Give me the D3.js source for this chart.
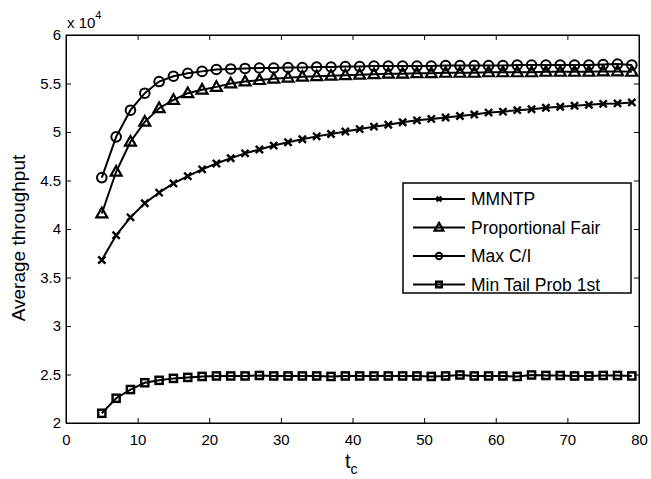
<!DOCTYPE html>
<html>
<head>
<meta charset="utf-8">
<script src="https://cdn.jsdelivr.net/npm/d3@7"></script>
<style>
  body { margin: 0; background: #fff; }
  svg { display: block; font-family: "Liberation Sans", Arial, Helvetica, sans-serif; }
  .axis path, .axis line { stroke: #000; }
  .axis text { font-size: 15px; fill: #000; }
</style>
</head>
<body>
<svg id="chart" width="651" height="479"></svg>
<script>
// t_c values (x axis)
var tc = [5, 7, 9, 11, 13, 15, 17, 19, 21, 23,
          25, 27, 29, 31, 33, 35, 37, 39, 41, 43,
          45, 47, 49, 51, 53, 55, 57, 59, 61, 63,
          65, 67, 69, 71, 73, 75, 77, 79];

// average throughput, in units of 1e4
var mmntp = [3.68, 3.935, 4.12, 4.265, 4.375, 4.47, 4.545, 4.615, 4.675, 4.73,
             4.78, 4.82, 4.86, 4.895, 4.925, 4.955, 4.98, 5.005, 5.03, 5.055,
             5.075, 5.10, 5.12, 5.135, 5.15, 5.165, 5.18, 5.20, 5.21, 5.225,
             5.235, 5.25, 5.26, 5.27, 5.28, 5.29, 5.295, 5.305];
var propFair = [4.16, 4.59, 4.90, 5.105, 5.245, 5.33, 5.40, 5.435, 5.465, 5.50,
                5.52, 5.535, 5.55, 5.56, 5.57, 5.575, 5.58, 5.585, 5.59, 5.595,
                5.60, 5.60, 5.605, 5.605, 5.61, 5.61, 5.61, 5.615, 5.615, 5.615,
                5.615, 5.62, 5.62, 5.62, 5.62, 5.625, 5.625, 5.62];
var maxCI = [4.53, 4.95, 5.225, 5.40, 5.52, 5.575, 5.605, 5.625, 5.645, 5.65,
             5.655, 5.66, 5.66, 5.665, 5.665, 5.67, 5.67, 5.675, 5.675, 5.68,
             5.68, 5.68, 5.68, 5.68, 5.685, 5.685, 5.685, 5.685, 5.685, 5.69,
             5.69, 5.69, 5.69, 5.69, 5.69, 5.695, 5.70, 5.69];
var minTail = [2.10, 2.255, 2.345, 2.415, 2.44, 2.46, 2.47, 2.48, 2.485, 2.485,
               2.485, 2.49, 2.485, 2.485, 2.485, 2.485, 2.48, 2.485, 2.485, 2.485,
               2.485, 2.485, 2.485, 2.48, 2.485, 2.495, 2.485, 2.485, 2.485, 2.48,
               2.495, 2.49, 2.49, 2.485, 2.485, 2.49, 2.49, 2.485];

var seriesNames = ['MMNTP', 'Proportional Fair', 'Max C/I', 'Min Tail Prob 1st'];
var seriesMarkers = ['x', 'triangle', 'circle', 'square'];
var seriesValues = [mmntp, propFair, maxCI, minTail];

var xTicks = [0, 10, 20, 30, 40, 50, 60, 70, 80];
var yTicks = [2, 2.5, 3, 3.5, 4, 4.5, 5, 5.5, 6];

var margin = { top: 35, right: 12, bottom: 56, left: 66 };
var width = 651 - margin.left - margin.right;
var height = 479 - margin.top - margin.bottom;

var svg = d3.select('#chart');
var g = svg.append('g').attr('transform', 'translate(' + margin.left + ',' + margin.top + ')');

var x = d3.scaleLinear().domain([0, 80]).range([0, width]);
var y = d3.scaleLinear().domain([2, 6]).range([height, 0]);

function fmt(d) { return String(d); }

// axes, ticks pointing inward on all four sides
g.append('g').attr('class', 'axis')
    .attr('transform', 'translate(0,' + height + ')')
    .call(d3.axisBottom(x).tickValues(xTicks).tickFormat(fmt).tickSizeInner(-5).tickSizeOuter(0).tickPadding(11));
g.append('g').attr('class', 'axis')
    .call(d3.axisTop(x).tickValues(xTicks).tickFormat('').tickSizeInner(-5).tickSizeOuter(0));
g.append('g').attr('class', 'axis')
    .call(d3.axisLeft(y).tickValues(yTicks).tickFormat(fmt).tickSizeInner(-5).tickSizeOuter(0).tickPadding(5));
g.append('g').attr('class', 'axis')
    .attr('transform', 'translate(' + width + ',0)')
    .call(d3.axisRight(y).tickValues(yTicks).tickFormat('').tickSizeInner(-5).tickSizeOuter(0));

g.append('rect')
    .attr('width', width).attr('height', height)
    .attr('fill', 'none').attr('stroke', '#000').attr('stroke-width', 1);

function drawMarker(sel, type, s) {
    if (type === 'x') {
        sel.append('path')
            .attr('d', 'M' + (-s) + ',' + (-s) + 'L' + s + ',' + s + 'M' + (-s) + ',' + s + 'L' + s + ',' + (-s))
            .attr('stroke', '#000').attr('stroke-width', 2.4).attr('fill', 'none');
    } else if (type === 'triangle') {
        sel.append('path')
            .attr('d', 'M0,' + (-s * 1.1) + 'L' + (s * 1.05) + ',' + (s * 0.75) + 'L' + (-s * 1.05) + ',' + (s * 0.75) + 'Z')
            .attr('stroke', '#000').attr('stroke-width', 2.2).attr('fill', 'none').attr('stroke-linejoin', 'miter');
    } else if (type === 'circle') {
        sel.append('circle').attr('r', s)
            .attr('stroke', '#000').attr('stroke-width', 2).attr('fill', 'none');
    } else {
        sel.append('rect')
            .attr('x', -s).attr('y', -s).attr('width', 2 * s).attr('height', 2 * s)
            .attr('stroke', '#000').attr('stroke-width', 2.4).attr('fill', 'none');
    }
}

var markerSize = { x: 3.6, triangle: 5.2, circle: 4.8, square: 3.6 };
var line = d3.line().x(function(d) { return x(d[0]); }).y(function(d) { return y(d[1]); });

seriesValues.forEach(function(vals, i) {
    var pts = tc.map(function(t, j) { return [t, vals[j]]; });
    g.append('path')
        .datum(pts)
        .attr('d', line)
        .attr('fill', 'none')
        .attr('stroke', '#000')
        .attr('stroke-width', 2);

    g.append('g').selectAll('g')
        .data(pts)
        .join('g')
        .attr('transform', function(d) { return 'translate(' + x(d[0]) + ',' + y(d[1]) + ')'; })
        .each(function() { drawMarker(d3.select(this), seriesMarkers[i], markerSize[seriesMarkers[i]]); });
});

// legend
var legend = svg.append('g').attr('transform', 'translate(403,183)');
legend.append('rect')
    .attr('width', 228).attr('height', 110)
    .attr('fill', '#fff').attr('stroke', '#000').attr('stroke-width', 1.5);

seriesNames.forEach(function(name, i) {
    var row = legend.append('g').attr('transform', 'translate(0,' + (16 + i * 28.5) + ')');
    row.append('line')
        .attr('x1', 10).attr('x2', 62)
        .attr('stroke', '#000').attr('stroke-width', 2);
    var m = row.append('g').attr('transform', 'translate(36,0)');
    var small = { x: 2.4, triangle: 4.2, circle: 3.2, square: 2.8 };
    drawMarker(m, seriesMarkers[i], small[seriesMarkers[i]]);
    row.append('text')
        .attr('x', 68).attr('y', 0).attr('dy', '0.36em')
        .attr('font-size', 17.5)
        .text(name);
});

// axis titles
svg.append('text')
    .attr('transform', 'translate(25,238) rotate(-90)')
    .attr('text-anchor', 'middle')
    .attr('font-size', 19)
    .text('Average throughput');

var xt = svg.append('text')
    .attr('x', 345).attr('y', 468)
    .attr('font-size', 20);
xt.append('tspan').text('t');
xt.append('tspan').attr('font-size', 14).attr('dy', 6).text('c');

var ex = svg.append('text')
    .attr('x', 67).attr('y', 28)
    .attr('font-size', 15);
ex.append('tspan').text('x 10');
ex.append('tspan').attr('font-size', 11).attr('dy', -9).text('4');
</script>
</body>
</html>
